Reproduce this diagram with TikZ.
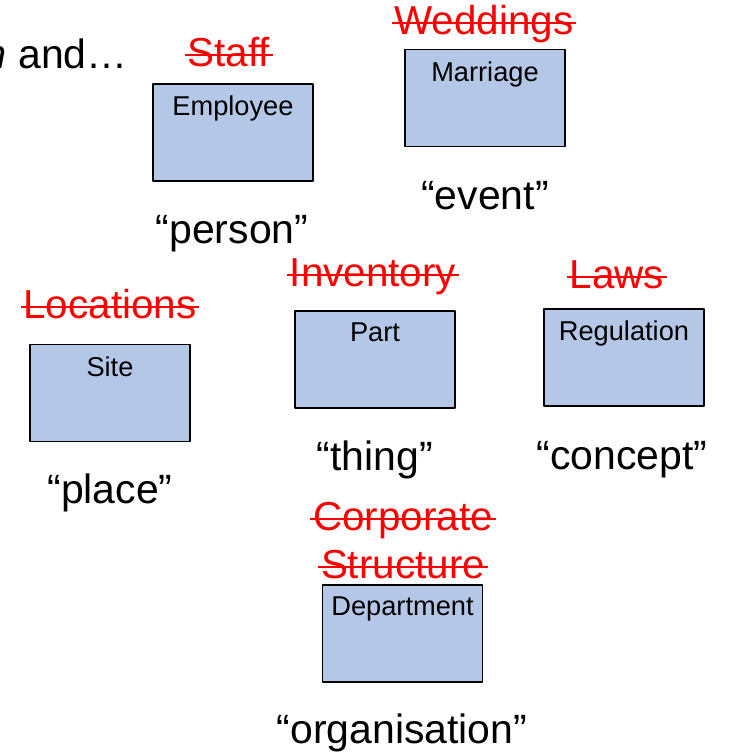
\documentclass[tikz,border=0pt]{standalone}
\usepackage{fontspec}
\setmainfont{Liberation Sans}
\definecolor{boxblue}{RGB}{180,199,231}
\tikzset{
	entity/.style={draw=black, line width=1pt, fill=boxblue, minimum width=3.2cm, minimum height=1.94cm, inner sep=0pt},
	entitytxt/.style={font=\fontsize{15.5}{18}\selectfont, anchor=north, inner sep=0pt, yshift=-7pt},
	oldname/.style={text=red, font=\fontsize{23}{26}\selectfont, inner xsep=1.5pt, inner ysep=0pt},
	concept/.style={font=\fontsize{23.3}{27}\selectfont, inner sep=0pt}
}
% crossed out red label: name, position, text
\newcommand{\oldlabel}[3]{%
	\node[oldname, anchor=base] (#1) at (#2) {#3};
	\draw[red, line width=1.3pt] ([yshift=6.3pt]#1.base west) -- ([yshift=6.3pt]#1.base east);}

\begin{document}
\begin{tikzpicture}[x=0.02cm, y=-0.02cm, line join=round]
	\useasboundingbox (0,0) rectangle (731,752);
	\node[concept, anchor=base east] (intro) at (128,68) {\itshape m\upshape\ and…};
	% boxes
	\node[entity, label={[name=employeeT, entitytxt]north:Employee}] (employee) at (233,132.5) {};
	\node[entity, label={[name=marriageT, entitytxt]north:Marriage}] (marriage) at (485,98) {};
	\node[entity, label={[name=siteT, entitytxt]north:Site}] (site) at (110,393) {};
	\node[entity, label={[name=partT, entitytxt]north:Part}] (part) at (375,359.5) {};
	\node[entity, label={[name=regulationT, entitytxt]north:Regulation}] (regulation) at (624,357.5) {};
	\node[entity, label={[name=departmentT, entitytxt]north:Department}] (department) at (402.5,633.5) {};
	% old names
	\oldlabel{staff}{229,66}{Staff}
	\oldlabel{weddings}{484,34}{Weddings}
	\oldlabel{inventory}{373,286}{Inventory}
	\oldlabel{laws}{617,288}{Laws}
	\oldlabel{locations}{110,318}{Locations}
	\oldlabel{corporate}{403,530}{Corporate}
	\oldlabel{structure}{403,578}{Structure}
	% kinds
	\node[concept, anchor=base] (person) at (232,243) {“person”};
	\node[concept, anchor=base] (event) at (485,209) {“event”};
	\node[concept, anchor=base] (place) at (110,503) {“place”};
	\node[concept, anchor=base] (thing) at (375,470) {“thing”};
	\node[concept, anchor=base] (conceptlbl) at (622,469) {“concept”};
	\node[concept, anchor=base] (organisation) at (402,743) {“organisation”};
\end{tikzpicture}
\end{document}
